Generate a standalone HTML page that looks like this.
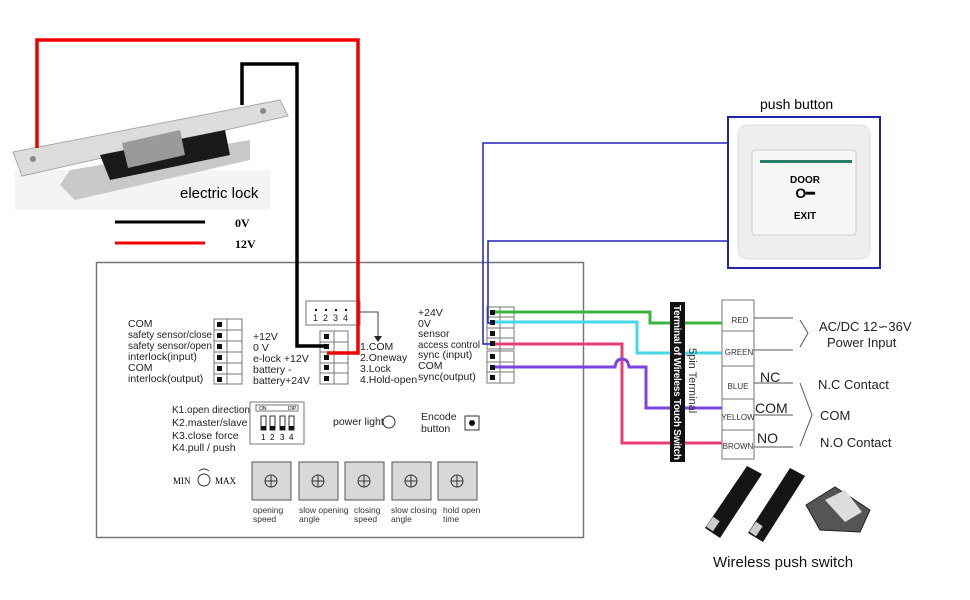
<!DOCTYPE html>
<html><head><meta charset="utf-8"><style>
body{margin:0;background:#fff;}
svg{display:block;font-family:"Liberation Sans",Arial,sans-serif;}
</style></head><body>
<svg width="970" height="600" viewBox="0 0 970 600" xmlns="http://www.w3.org/2000/svg">
<!-- lock image -->
<rect x="15" y="170" width="255" height="40" fill="#f4f4f4"/>
<polygon points="60,185 75,200 250,160 250,140 70,170" fill="#c8c8c8"/>
<polygon points="13,152 280,100 288,116 22,176" fill="#dcdcdc" stroke="#aaa"/>
<polygon points="100,155 225,130 230,155 110,180" fill="#1a1a1a"/>
<polygon points="122,143 180,130 185,155 128,168" fill="#9a9a9a"/>
<circle cx="33" cy="159" r="3" fill="#888"/><circle cx="263" cy="111" r="3" fill="#888"/>
<text x="180" y="198" font-size="15" fill="#000">electric lock</text>
<line x1="115" y1="222" x2="205" y2="222" stroke="#000" stroke-width="3"/>
<line x1="115" y1="243" x2="205" y2="243" stroke="#e00" stroke-width="3"/>
<text x="235" y="227" font-size="12" font-weight="bold" font-family="Liberation Serif">0V</text>
<text x="235" y="248" font-size="12" font-weight="bold" font-family="Liberation Serif">12V</text>

<!-- main panel -->
<rect x="96.5" y="262.5" width="487" height="275" fill="none" stroke="#777" stroke-width="1.5"/>

<!-- left labels -->
<g font-size="10.5" fill="#222">
<text x="128" y="327">COM</text>
<text x="128" y="338" textLength="84" lengthAdjust="spacingAndGlyphs">safety sensor/close</text>
<text x="128" y="349" textLength="84" lengthAdjust="spacingAndGlyphs">safety sensor/open</text>
<text x="128" y="360">interlock(input)</text>
<text x="128" y="371">COM</text>
<text x="128" y="382">interlock(output)</text>
<text x="253" y="340">+12V</text>
<text x="253" y="351">0 V</text>
<text x="253" y="362">e-lock +12V</text>
<text x="253" y="373">battery -</text>
<text x="253" y="384">battery+24V</text>
<text x="360" y="350">1.COM</text>
<text x="360" y="361">2.Oneway</text>
<text x="360" y="372">3.Lock</text>
<text x="360" y="383">4.Hold-open</text>
<text x="418" y="316">+24V</text>
<text x="418" y="327">0V</text>
<text x="418" y="337">sensor</text>
<text x="418" y="348" textLength="62" lengthAdjust="spacingAndGlyphs">access control</text>
<text x="418" y="358">sync (input)</text>
<text x="418" y="369">COM</text>
<text x="418" y="380">sync(output)</text>
<text x="172" y="413" textLength="78" lengthAdjust="spacingAndGlyphs">K1.open direction</text>
<text x="172" y="426">K2.master/slave</text>
<text x="172" y="439">K3.close force</text>
<text x="172" y="451">K4.pull / push</text>
<text x="333" y="425">power light</text>
<text x="421" y="420">Encode</text>
<text x="421" y="432">button</text>
</g>
<!-- terminals -->
<g stroke="#777" fill="#fff" stroke-width="1">
<rect x="214" y="319" width="28" height="65"/>
<rect x="320" y="331" width="28" height="53"/>
<rect x="487" y="307" width="27" height="42"/>
<rect x="487" y="351" width="27" height="32"/>
<rect x="306" y="301" width="54" height="24"/>
<rect x="250" y="402" width="54" height="42"/>
<rect x="465" y="416" width="14" height="14" stroke="#333"/>
</g>
<g stroke="#777">
<line x1="227" y1="319" x2="227" y2="384"/><line x1="334" y1="331" x2="334" y2="384"/>
<line x1="500" y1="307" x2="500" y2="383"/>
<line x1="214" y1="330" x2="242" y2="330"/><line x1="214" y1="341" x2="242" y2="341"/><line x1="214" y1="352" x2="242" y2="352"/><line x1="214" y1="363" x2="242" y2="363"/><line x1="214" y1="374" x2="242" y2="374"/>
<line x1="320" y1="342" x2="348" y2="342"/><line x1="320" y1="352" x2="348" y2="352"/><line x1="320" y1="363" x2="348" y2="363"/><line x1="320" y1="373" x2="348" y2="373"/>
<line x1="487" y1="317" x2="514" y2="317"/><line x1="487" y1="328" x2="514" y2="328"/><line x1="487" y1="338" x2="514" y2="338"/>
<line x1="487" y1="362" x2="514" y2="362"/><line x1="487" y1="372" x2="514" y2="372"/>
</g>
<g fill="#111">
<rect x="217" y="322" width="5" height="5"/><rect x="217" y="333" width="5" height="5"/><rect x="217" y="344" width="5" height="5"/><rect x="217" y="355" width="5" height="5"/><rect x="217" y="366" width="5" height="5"/><rect x="217" y="377" width="5" height="5"/>
<rect x="324" y="334" width="5" height="5"/><rect x="324" y="344" width="5" height="5"/><rect x="324" y="355" width="5" height="5"/><rect x="324" y="365" width="5" height="5"/><rect x="324" y="376" width="5" height="5"/>
<rect x="490" y="310" width="5" height="5"/><rect x="490" y="320" width="5" height="5"/><rect x="490" y="331" width="5" height="5"/><rect x="490" y="341" width="5" height="5"/>
<rect x="490" y="354" width="5" height="5"/><rect x="490" y="365" width="5" height="5"/><rect x="490" y="375" width="5" height="5"/>
<circle cx="472" cy="423" r="3"/>
<circle cx="316" cy="310" r="1.2"/><circle cx="326" cy="310" r="1.2"/><circle cx="336" cy="310" r="1.2"/><circle cx="346" cy="310" r="1.2"/>
</g>
<g font-size="9" fill="#222"><text x="313" y="321">1</text><text x="323" y="321">2</text><text x="333" y="321">3</text><text x="343" y="321">4</text></g>
<polyline points="360,312 378,312 378,338" fill="none" stroke="#444"/>
<polygon points="374,336 382,336 378,342" fill="#222"/>
<!-- dip -->
<rect x="256" y="405" width="42" height="6" fill="none" stroke="#777"/>
<text x="259" y="410" font-size="5">ON</text><text x="288" y="410" font-size="5">DIP</text>
<g fill="#fff" stroke="#333"><rect x="261" y="416" width="5" height="14"/><rect x="270" y="416" width="5" height="14"/><rect x="280" y="416" width="5" height="14"/><rect x="289" y="416" width="5" height="14"/></g>
<g fill="#111"><rect x="261" y="426" width="5" height="4"/><rect x="270" y="426" width="5" height="4"/><rect x="280" y="426" width="5" height="4"/><rect x="289" y="426" width="5" height="4"/></g>
<g font-size="8"><text x="261" y="440">1</text><text x="270" y="440">2</text><text x="280" y="440">3</text><text x="289" y="440">4</text></g>
<circle cx="389" cy="422" r="6" fill="none" stroke="#333"/>
<!-- bottom knobs -->
<text x="173" y="484" font-size="9" font-family="Liberation Serif">MIN</text>
<text x="215" y="484" font-size="9" font-family="Liberation Serif">MAX</text>
<circle cx="204" cy="480" r="6" fill="none" stroke="#333"/>
<path d="M199,471 Q204,467 209,471" fill="none" stroke="#333"/>
<g fill="#d8d8d8" stroke="#555">
<rect x="252" y="462" width="39" height="38"/><rect x="299" y="462" width="39" height="38"/><rect x="345" y="462" width="39" height="38"/><rect x="392" y="462" width="39" height="38"/><rect x="438" y="462" width="39" height="38"/>
</g>
<g fill="none" stroke="#333"><circle cx="271" cy="481" r="6"/><circle cx="318" cy="481" r="6"/><circle cx="364" cy="481" r="6"/><circle cx="411" cy="481" r="6"/><circle cx="457" cy="481" r="6"/>
<path d="M265,481h12M271,475v12M312,481h12M318,475v12M358,481h12M364,475v12M405,481h12M411,475v12M451,481h12M457,475v12"/></g>
<g font-size="8.5" fill="#333">
<text x="253" y="513">opening</text><text x="253" y="522">speed</text>
<text x="299" y="513">slow opening</text><text x="299" y="522">angle</text>
<text x="354" y="513">closing</text><text x="354" y="522">speed</text>
<text x="391" y="513">slow closing</text><text x="391" y="522">angle</text>
<text x="443" y="513">hold open</text><text x="443" y="522">time</text>
</g>

<!-- wires top -->
<polyline points="37,148 37,40 358,40 358,353 327,353" fill="none" stroke="#e00" stroke-width="3.5"/>
<polyline points="242,105 242,64 297,64 297,346 327,346" fill="none" stroke="#000" stroke-width="3.5"/>

<!-- push button -->
<rect x="728" y="117" width="152" height="151" fill="none" stroke="#2222aa" stroke-width="2"/>
<rect x="738" y="125" width="132" height="134" rx="10" fill="#eeeeec" stroke="#ddd"/>
<rect x="752" y="150" width="104" height="85" rx="3" fill="#f6f6f4" stroke="#ccc"/>
<rect x="760" y="160" width="92" height="3" fill="#2a7a6a"/>
<text x="805" y="183" font-size="10" font-weight="bold" text-anchor="middle">DOOR</text>
<text x="805" y="198" font-size="14" font-weight="bold" text-anchor="middle">O━</text>
<text x="805" y="219" font-size="10" font-weight="bold" text-anchor="middle">EXIT</text>
<text x="760" y="109" font-size="14">push button</text>
<polyline points="727,143 483,143 483,344 490,344" fill="none" stroke="#2222bb" stroke-width="1.5"/>
<polyline points="727,241 488,241 488,323 492,323" fill="none" stroke="#2222bb" stroke-width="1.5"/>

<!-- colored wires -->
<polyline points="495,312 650,312 650,323 726,323" fill="none" stroke="#3cb33c" stroke-width="3"/>
<polyline points="495,322 637,322 637,353 726,353" fill="none" stroke="#44d8e8" stroke-width="3"/>
<polyline points="495,344 622,344 622,443 726,443" fill="none" stroke="#e83c78" stroke-width="3"/>
<path d="M495,367 H615 Q616,359 622,359 Q628,359 629,367 H646 V408 H726" fill="none" stroke="#7a44e0" stroke-width="3"/>

<!-- terminal strip -->
<rect x="670" y="302" width="15" height="160" fill="#111"/>
<text transform="translate(674,305) rotate(90)" font-size="10" font-weight="bold" fill="#fff" textLength="155">Terminal of Wireless Touch Switch</text>
<text transform="translate(689,348) rotate(90)" font-size="11" fill="#333">5pin Terminal</text>
<rect x="722" y="300" width="32" height="159" fill="#fff" stroke="#777"/>
<g stroke="#777"><line x1="722" y1="331" x2="754" y2="331"/><line x1="722" y1="366" x2="754" y2="366"/><line x1="722" y1="399" x2="754" y2="399"/><line x1="722" y1="430" x2="754" y2="430"/></g>
<g font-size="8" fill="#333" text-anchor="middle">
<text x="740" y="323">RED</text><text x="739" y="355">GREEN</text><text x="738" y="389">BLUE</text><text x="738" y="420">YELLOW</text><text x="738" y="449">BROWN</text>
</g>
<g stroke="#555"><line x1="754" y1="318" x2="793" y2="318"/><line x1="754" y1="350" x2="793" y2="350"/><line x1="754" y1="383" x2="793" y2="383"/><line x1="754" y1="415" x2="793" y2="415"/><line x1="754" y1="447" x2="793" y2="447"/></g>
<polyline points="800,320 808,333 800,347" fill="none" stroke="#555"/>
<polyline points="800,383 812,415 800,446" fill="none" stroke="#555"/>
<g font-size="13" fill="#222">
<text x="819" y="331">AC/DC 12∽36V</text>
<text x="827" y="347">Power Input</text>
<text x="760" y="382" font-size="14">NC</text>
<text x="755" y="413" font-size="14">COM</text>
<text x="757" y="443" font-size="14">NO</text>
<text x="818" y="389">N.C Contact</text>
<text x="820" y="420">COM</text>
<text x="820" y="447">N.O Contact</text>
</g>

<!-- wireless switches -->
<polygon points="705,528 747,466 762,474 720,538" fill="#151515"/>
<polygon points="748,533 790,468 805,476 763,542" fill="#151515"/>
<rect x="707" y="520" width="12" height="8" fill="#ccc" transform="rotate(-56 713 524)"/>
<rect x="750" y="525" width="12" height="8" fill="#ccc" transform="rotate(-56 756 529)"/>
<polygon points="806,505 835,487 870,510 860,532 820,530" fill="#555" stroke="#222"/>
<polygon points="825,500 845,490 862,512 845,522" fill="#ddd"/>
<text x="713" y="567" font-size="15" fill="#111">Wireless push switch</text>
</svg>
</body></html>
